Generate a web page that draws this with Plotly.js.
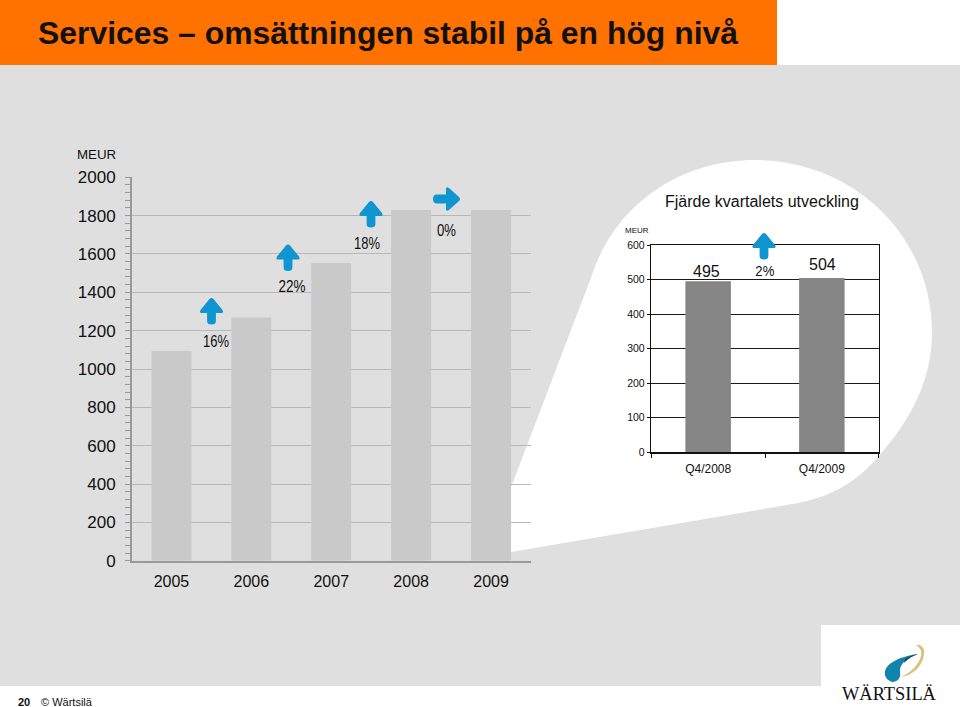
<!DOCTYPE html>
<html><head><meta charset="utf-8">
<script src="https://cdn.plot.ly/plotly-3.0.1.min.js"></script>
<style>html,body{margin:0;padding:0;background:#fff}#c{width:960px;height:707px}</style></head>
<body><div id="c"></div>
<script>
const years = ['2005','2006','2007','2008','2009'];
const yearValues = [1094,1268,1553,1830,1830];
const quarters = ['Q4/2008','Q4/2009'];
const quarterValues = [495,504];
const leftTicks = [0,200,400,600,800,1000,1200,1400,1600,1800,2000];
const rightTicks = [0,100,200,300,400,500,600];

const W=960,H=707;
const fx=x=>(x/W).toFixed(5), fy=y=>(1-y/H).toFixed(5);
// path in page pixels -> paper fractions
function P(s){return s.replace(/(-?[\d.]+),(-?[\d.]+)/g,(m,a,b)=>fx(+a)+','+fy(+b));}
function upArrow(x,t){
  const p=(dx,dy)=>(x+dx)+','+(t+dy);
  return P('M'+p(0,0)+' Q'+p(1,0)+' '+p(2,1)+' L'+p(11,12)+' Q'+p(12.5,15)+' '+p(10,15)+' L'+p(4.4,15)+' L'+p(4.4,23)+' Q'+p(4.4,26.5)+' '+p(0,26.5)+' Q'+p(-4.4,26.5)+' '+p(-4.4,23)+' L'+p(-4.4,15)+' L'+p(-10,15)+' Q'+p(-12.5,15)+' '+p(-11,12)+' L'+p(-2,1)+' Q'+p(-1,0)+' '+p(0,0)+' Z');
}
function rightArrow(tx,y){
  const p=(dx,dy)=>(tx+dx)+','+(y+dy);
  return P('M'+p(0,0)+' Q'+p(0,1)+' '+p(-1,2)+' L'+p(-11,11)+' Q'+p(-14,13)+' '+p(-14,10)+' L'+p(-14,4.5)+' L'+p(-23,4.5)+' Q'+p(-27,4.5)+' '+p(-27,0)+' Q'+p(-27,-4.5)+' '+p(-23,-4.5)+' L'+p(-14,-4.5)+' L'+p(-14,-10)+' Q'+p(-14,-13)+' '+p(-11,-11)+' L'+p(-1,-2)+' Q'+p(0,-1)+' '+p(0,0)+' Z');
}
const rect=(x0,y0,x1,y1,c)=>({type:'rect',xref:'paper',yref:'paper',x0:fx(x0),x1:fx(x1),y0:fy(y0),y1:fy(y1),fillcolor:c,line:{width:0},layer:'below'});
const path=(d,c,layer)=>({type:'path',xref:'paper',yref:'paper',path:d,fillcolor:c,line:{width:0},layer:layer||'above'});
const blue='#0f95cf';
const shapes=[
  rect(0,65,960,686,'#dfdfdf'),
  rect(0,0,777,65,'#ff7200'),
  rect(821,625,960,707,'#ffffff'),
  path(P('M505,553 L793,504 C835,497 860,478 878,457 C900,432 932,390 932,333 C932,235 853,160 755,160 C680,160 615,205 592,275 L505,503 Z'),'#ffffff','below'),
  path(upArrow(211.5,298),blue),
  path(upArrow(288,244.5),blue),
  path(upArrow(371,201),blue),
  path(upArrow(764,233),blue),
  path(rightArrow(460,199),blue),
  // logo
  path(P('M893,682 C887,681 884,676 885,671 C887,664 897,657 918,654 C906,658 899,665 900,672 C901,677 899,681 893,682 Z'),'#1184ad'),
  path(P('M905,659 C910,656 915,654.5 918,654 C912,656 908,659 904,663 Z'),'#23404f'),
  path(P('M901,677 C915,675 925,663 924,650 C923,646 919,644 916,645 C921,648 922,652 921,656 C919,665 910,673 901,677 Z'),'#dcbf78')
];
const note=(t,x,y,size,opts)=>Object.assign({text:t,xref:'paper',yref:'paper',x:+fx(x),y:+fy(y),xanchor:'center',yanchor:'middle',showarrow:false,font:{size:size,color:'#111',family:'Liberation Sans'}},opts||{});
// condensed percentage labels: text -> drawn width in px
const condensed={'16%':26,'22%':27,'18%':26,'0%':19,'2%':19};
const annotations=[
  note('MEUR',96.5,154.5,13.3),
  note('16%',215.5,341,16), note('22%',291.5,286,16), note('18%',367,243,16), note('0%',446.5,231,16),
  note('Fjärde kvartalets utveckling',762,201,16),
  note('MEUR',637.5,230,8),
  note('495',706.5,271,16), note('2%',765,270,15), note('504',822.5,265,16),
  note('WÄRTSILÄ',890,694,18.4,{font:{size:18.4,color:'#111',family:'Liberation Serif'}}),
  note('<b>20</b>',24.5,702,11), note('© Wärtsilä',67,702,11)
];
const data=[
 {type:'bar',x:years,y:yearValues,marker:{color:'#c9c9c9'},xaxis:'x',yaxis:'y',width:0.5,hoverinfo:'x+y'},
 {type:'bar',x:quarters,y:quarterValues,marker:{color:'#858585'},xaxis:'x2',yaxis:'y2',width:0.4,hoverinfo:'x+y'}
];
const layout={
 width:W,height:H,showlegend:false,margin:{l:0,r:0,t:0,b:0},
 paper_bgcolor:'#ffffff',plot_bgcolor:'rgba(0,0,0,0)',font:{family:'Liberation Sans',color:'#111'},
 title:{text:'Services – omsättningen stabil på en hög nivå',x:38/W,xanchor:'left',xref:'paper',y:1-33/H,yref:'container',yanchor:'middle',font:{size:31.9,weight:700,color:'#111',family:'Liberation Sans'}},
 xaxis:{domain:[131.5/W,531/W],type:'category',categoryorder:'array',categoryarray:years,range:[-0.5,4.5],showgrid:false,showline:true,linecolor:'#999',linewidth:2,ticks:'',tickfont:{size:16,color:'#111'},ticklabelstandoff:5,anchor:'y',zeroline:false},
 yaxis:{domain:[1-560.7/H,1-177.3/H],range:[0,2000],tickvals:leftTicks,showgrid:true,gridcolor:'#b8b8b8',gridwidth:1,showline:true,linecolor:'#999',linewidth:1.5,ticks:'outside',ticklen:5,tickcolor:'#999',tickfont:{size:17,color:'#111'},ticklabelstandoff:6,anchor:'x',zeroline:false,
   minor:{dtick:40,tick0:0,ticks:'outside',ticklen:5,tickcolor:'#999',tickwidth:1,showgrid:false}},
 xaxis2:{domain:[651.3/W,878.7/W],type:'category',categoryorder:'array',categoryarray:quarters,range:[-0.5,1.5],showgrid:false,showline:true,mirror:true,linecolor:'#111',linewidth:1.5,ticks:'outside',tickson:'boundaries',ticklen:4,tickcolor:'#111',tickfont:{size:12,color:'#111'},ticklabelstandoff:5,anchor:'y2',zeroline:false},
 yaxis2:{domain:[1-452/H,1-245/H],range:[0,600],tickvals:rightTicks,showgrid:true,gridcolor:'#1a1a1a',gridwidth:1,showline:true,mirror:true,linecolor:'#111',linewidth:1.5,ticks:'outside',ticklen:3,tickcolor:'#111',tickfont:{size:10.5,color:'#111'},anchor:'x2',zeroline:false},
 shapes:shapes,annotations:annotations
};
Plotly.newPlot('c',data,layout,{displayModeBar:false,staticPlot:true}).then(()=>{
  document.querySelectorAll('#c .annotation-text').forEach(t=>{
    const w=condensed[t.textContent];
    if(w){t.setAttribute('textLength',w);t.setAttribute('lengthAdjust','spacingAndGlyphs');}
  });
});
</script></body></html>
